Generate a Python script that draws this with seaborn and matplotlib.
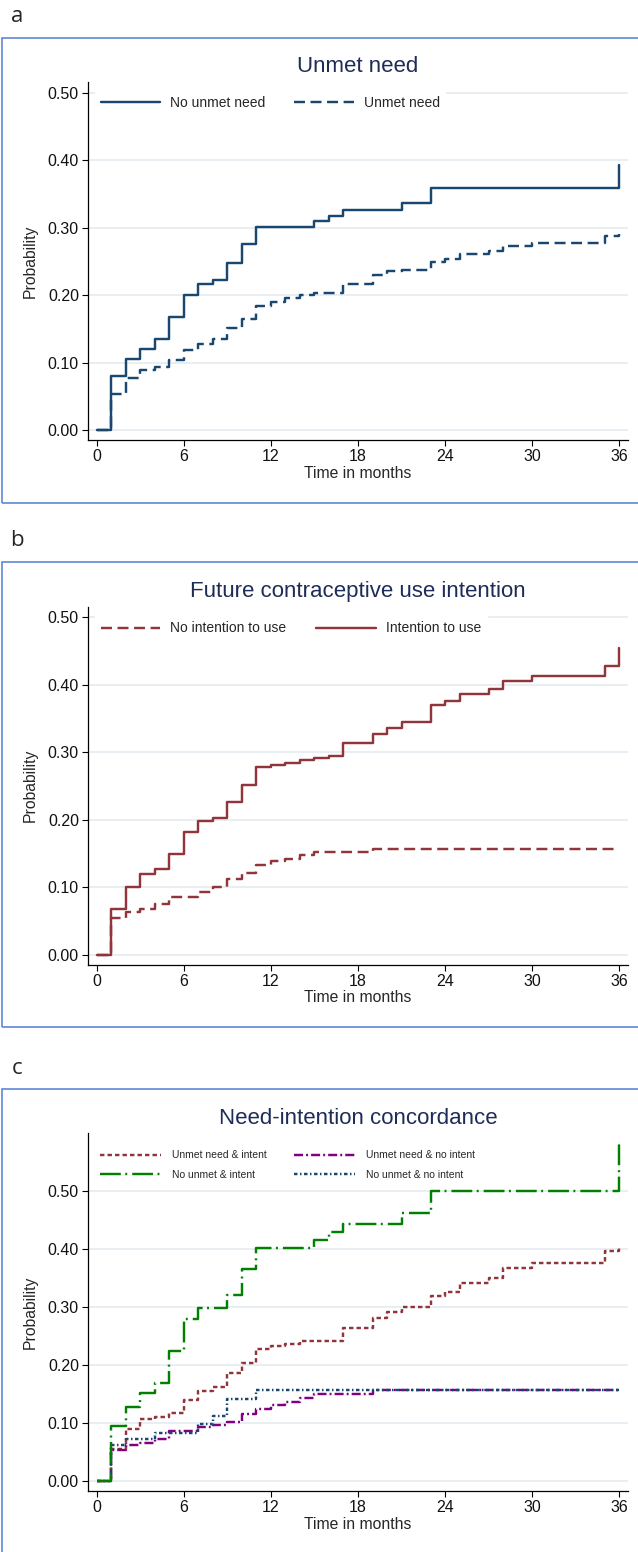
import matplotlib
matplotlib.use("Agg")
import matplotlib.pyplot as plt
import seaborn as sns
from matplotlib.patches import Rectangle

# ---- data (cumulative probability by month) ----
# panel a: unmet need
months_a_nounmet = [0, 1, 2, 3, 4, 5, 6, 7, 8, 9, 10, 11, 15, 16, 17, 21, 23, 36]
prob_a_nounmet = [0, .080, .105, .120, .135, .167, .200, .217, .223, .248, .275,
                  .301, .309, .317, .326, .336, .359, .393]
months_a_unmet = [0, 1, 2, 3, 4, 5, 6, 7, 8, 9, 10, 11, 12, 13, 14, 15, 17, 19,
                  20, 21, 23, 24, 25, 27, 28, 30, 35, 36]
prob_a_unmet = [0, .054, .077, .089, .093, .104, .118, .127, .135, .151, .164,
                .184, .190, .195, .200, .203, .216, .229, .235, .237, .249, .254,
                .261, .265, .273, .277, .288, .290]

# panel b: future contraceptive use intention
months_b_noint = [0, 1, 2, 3, 4, 5, 7, 8, 9, 10, 11, 12, 13, 14, 15, 19, 36]
prob_b_noint = [0, .054, .063, .067, .075, .085, .0925, .100, .112, .121, .133,
                .139, .142, .147, .152, .157, .157]
months_b_int = [0, 1, 2, 3, 4, 5, 6, 7, 8, 9, 10, 11, 12, 13, 14, 15, 16, 17, 19,
                20, 21, 23, 24, 25, 27, 28, 30, 35, 36]
prob_b_int = [0, .067, .100, .119, .127, .149, .181, .198, .202, .226, .251, .278,
              .281, .284, .288, .291, .294, .314, .327, .336, .345, .370, .376,
              .386, .393, .406, .412, .428, .454]

# panel c: need-intention concordance
months_c_un_int = [0, 1, 2, 3, 4, 5, 6, 7, 8, 9, 10, 11, 12, 13, 14, 17, 19, 20,
                   21, 23, 24, 25, 27, 28, 30, 35, 36]
prob_c_un_int = [0, .055, .089, .107, .111, .117, .140, .155, .163, .186, .203,
                 .228, .233, .237, .242, .264, .281, .292, .300, .320, .327, .342,
                 .350, .367, .377, .398, .406]
months_c_un_noint = [0, 1, 2, 3, 4, 5, 7, 8, 9, 10, 11, 12, 13, 14, 15, 19, 36]
prob_c_un_noint = [0, .053, .063, .066, .072, .087, .0925, .097, .102, .115, .125,
                   .131, .137, .144, .150, .157, .157]
months_c_no_int = [0, 1, 2, 3, 4, 5, 6, 7, 9, 10, 11, 15, 16, 17, 21, 23, 36]
prob_c_no_int = [0, .095, .128, .152, .170, .225, .279, .299, .321, .366, .402,
                 .416, .430, .444, .462, .500, .583]
months_c_no_noint = [0, 1, 2, 4, 7, 8, 9, 11, 36]
prob_c_no_noint = [0, .062, .072, .083, .098, .112, .142, .157, .157]

x_ticks = [0, 6, 12, 18, 24, 30, 36]
y_ticks = [0.0, 0.1, 0.2, 0.3, 0.4, 0.5]

NAVY = "#1a476f"
MAROON = "#90353b"
GREEN = "#008000"
PURPLE = "#800080"
GRID = "#e6edf1"
TITLE = "#1e2c58"
FRAME = "#5f86d4"

sns.set_style("ticks")
plt.rcParams["font.family"] = ["Liberation Sans", "DejaVu Sans"]
plt.rcParams["lines.scale_dashes"] = False

W, H = 638, 1552
fig = plt.figure(figsize=(W / 100, H / 100), dpi=100)


def make_axes(top, bottom, ylim, left=88, right=628):
    ax = fig.add_axes([left / W, 1 - bottom / H, (right - left) / W, (bottom - top) / H])
    ax.set_xlim(-0.62, 36.62)
    ax.set_ylim(*ylim)
    ax.set_xticks(x_ticks)
    ax.set_yticks(y_ticks)
    ax.set_yticklabels([f"{v:.2f}" for v in y_ticks])
    ax.yaxis.grid(True, color=GRID, lw=1.3)
    ax.set_axisbelow(True)
    sns.despine(ax=ax)
    for s in ["left", "bottom"]:
        ax.spines[s].set_color("black")
        ax.spines[s].set_linewidth(0.9)
    ax.tick_params(direction="out", length=4.5, width=0.8, labelsize=11.5,
                   pad=2, color="black", labelcolor="#111111")
    ax.set_xlabel("Time in months", fontsize=11.3)
    ax.xaxis.set_label_coords(0.5, -0.072)
    ax.set_ylabel("Probability", fontsize=11.3)
    ax.yaxis.set_label_coords(-0.093, 0.5)
    return ax


def step(ax, t, p, color, ls, label):
    sns.lineplot(x=t, y=p, ax=ax, color=color, linestyle=ls, linewidth=1.75,
                 drawstyle="steps-post", estimator=None, sort=False,
                 label=label, legend=False)
    return ax.lines[-1]


def panel_frame(top, bottom, letter, title, title_y):
    fig.patches.append(Rectangle((2 / W, 1 - bottom / H), 700 / W, (bottom - top) / H,
                                 transform=fig.transFigure, fill=False,
                                 edgecolor=FRAME, lw=1.2))
    fig.text(17 / W, 1 - (top - 21) / H, letter, fontsize=16, family="Open Sans",
             ha="center", va="center")
    fig.text(358 / W, 1 - title_y / H, title, fontsize=16, color=TITLE,
             ha="center", va="center")


DASH = (0, (7.9, 4.0))

# ---- panel a ----
panel_frame(38, 503, "a", "Unmet need", 66)
ax_a = make_axes(82, 440, (-0.0148, 0.5157))
h1 = step(ax_a, months_a_nounmet, prob_a_nounmet, NAVY, "-", "No unmet need")
h2 = step(ax_a, months_a_unmet, prob_a_unmet, NAVY, DASH, "Unmet need")
ax_a.legend(handles=[h1, h2], loc="center left", bbox_to_anchor=(0.013, 0.9413),
            ncol=2, fontsize=10, handlelength=4.3, handletextpad=0.72,
            columnspacing=2.05, borderpad=0.4, borderaxespad=0, frameon=True,
            facecolor="white", edgecolor="white", framealpha=1, fancybox=False)

# ---- panel b ----
panel_frame(562, 1027, "b", "Future contraceptive use intention", 591)
ax_b = make_axes(606.5, 964.5, (-0.0148, 0.5157))
h1 = step(ax_b, months_b_noint, prob_b_noint, MAROON, DASH, "No intention to use")
h2 = step(ax_b, months_b_int, prob_b_int, MAROON, "-", "Intention to use")
ax_b.legend(handles=[h1, h2], loc="center left", bbox_to_anchor=(0.013, 0.9387),
            ncol=2, fontsize=10, handlelength=4.3, handletextpad=0.72,
            columnspacing=2.15, borderpad=0.4, borderaxespad=0, frameon=True,
            facecolor="white", edgecolor="white", framealpha=1, fancybox=False)

# ---- panel c ----
panel_frame(1089, 1570, "c", "Need-intention concordance", 1118)
ax_c = make_axes(1133, 1491, (-0.0173, 0.601))
r = step(ax_c, months_c_un_int, prob_c_un_int, MAROON, (0, (3.2, 2.2)),
         "Unmet need & intent")
pu = step(ax_c, months_c_un_noint, prob_c_un_noint, PURPLE, (0, (6.5, 2.2, 1.4, 2.2)),
          "Unmet need & no intent")
nv = step(ax_c, months_c_no_noint, prob_c_no_noint, NAVY, (0, (2.5, 1.8, 1.1, 1.8)),
          "No unmet & no intent")
g = step(ax_c, months_c_no_int, prob_c_no_int, GREEN, (0, (15, 3.2, 1.4, 3.6)),
         "No unmet & intent")
ax_c.legend(handles=[r, g, pu, nv], loc="center left", bbox_to_anchor=(0.0148, 0.9106),
            ncol=2, fontsize=7.5, handlelength=5.8, handletextpad=1.05,
            columnspacing=2.7, labelspacing=0.9, borderpad=0.4, borderaxespad=0,
            frameon=True, facecolor="white", edgecolor="white", framealpha=1,
            fancybox=False)

fig.savefig("out.png", dpi=100, facecolor="white")
